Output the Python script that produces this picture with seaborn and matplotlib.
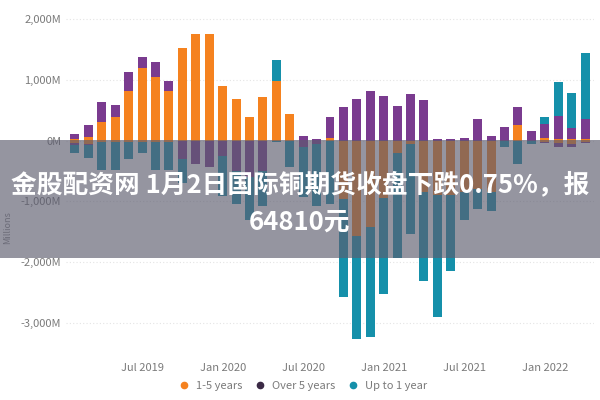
import numpy as np
import pandas as pd
import matplotlib
matplotlib.use('Agg')
import matplotlib.pyplot as plt
from matplotlib.patches import Rectangle
from matplotlib.lines import Line2D
import seaborn as sns

# monthly categories, Feb 2019 .. Apr 2022
months = [p.strftime('%b %Y') for p in pd.period_range('2019-02', '2022-04', freq='M')]

# values in millions
orange_pos = [30, 60, 310, 380, 820, 1200, 1050, 820, 1520, 1750, 1750, 900, 690, 390, 720, 980, 440,
              0, 0, 50, 0, 0, 0, 0, 0, 0, 0, 0, 0, 0, 0, 0, 0, 250, 0, 50, 20, 20, 30]
purple_pos = [85, 200, 330, 210, 310, 180, 250, 160, 0, 0, 0, 0, 0, 0, 0, 0, 0,
              80, 20, 340, 550, 680, 820, 740, 570, 770, 660, 30, 30, 50, 360, 80, 230, 300, 150, 230, 380, 190, 330]
teal_pos = [0, 0, 0, 0, 0, 0, 0, 0, 0, 0, 0, 0, 0, 0, 0, 350, 0,
            0, 0, 0, 0, 0, 0, 0, 0, 0, 0, 0, 0, 0, 0, 0, 0, 0, 0, 100, 570, 570, 1080]

orange_neg = [-40, -60, -20, -20, -20, -20, -20, -20, 0, 0, 0, 0, 0, 0, 0, 0, 0,
              0, 0, 0, -970, -1570, -1430, -950, -200, -60, -850, -900, -900, -850, -800, -850,
              0, 0, 0, -20, -40, -50, -20]
purple_neg = [-30, -20, 0, 0, 0, 0, 0, 0, -300, -390, -440, -250, -500, -600, -500, 0, 0,
              -100, -50, 0, 0, 0, 0, 0, 0, 0, 0, 0, 0, 0, 0, 0,
              0, 0, 0, -20, -60, -60, -20]
teal_neg = [-130, -200, -460, -460, -290, -180, -460, -460, -400, 0, 0, -670, -550, -700, -580, -30, -440,
            -830, -1030, -1050, -1600, -1690, -1800, -1570, -1730, -1480, -1460, -2000, -1250, -450, -320, -310,
            -100, -380, -60, 0, 0, 0, 0]

tick_pos = [5, 11, 17, 23, 29, 35]
tick_labels = ['Jul 2019', 'Jan 2020', 'Jul 2020', 'Jan 2021', 'Jul 2021', 'Jan 2022']
y_ticks = [-3000, -2000, -1000, 0, 1000, 2000]

series_names = ['1-5 years', 'Over 5 years', 'Up to 1 year']
ORANGE = '#F5821F'
PURPLE = '#7A3B8F'
TEAL = '#1590AA'

sns.set_theme(style='white')
plt.rcParams['font.family'] = ['Noto Sans CJK SC', 'DejaVu Sans']

fig = plt.figure(figsize=(6, 4), dpi=100)
ax = fig.add_axes([0.11, 0.14, 0.88, 0.835])

df = pd.DataFrame({
    'month': months,
    'o_pos': orange_pos, 'p_pos': purple_pos, 't_pos': teal_pos,
    'o_neg': orange_neg, 'p_neg': purple_neg, 't_neg': teal_neg,
})
# stacked by overdrawing cumulative totals
for sign in ['pos', 'neg']:
    df['tot'] = df['o_' + sign] + df['p_' + sign] + df['t_' + sign]
    df['op'] = df['o_' + sign] + df['p_' + sign]
    for col, c in [('tot', TEAL), ('op', PURPLE), ('o_' + sign, ORANGE)]:
        sns.barplot(data=df, x='month', y=col, order=months, color=c, saturation=1,
                    width=0.67, linewidth=0, ax=ax)

ax.set_xlim(-0.67, 38.67)
ax.set_ylim(-3350, 2150)
ax.set_xticks(tick_pos)
ax.set_xticklabels(tick_labels)
ax.set_yticks(y_ticks)
ax.set_yticklabels([f'{v:,.0f}M' for v in y_ticks])
ax.tick_params(axis='both', length=0, labelsize=8, colors='#7a7a7a')
ax.tick_params(axis='x', pad=14)
ax.set_xlabel('')
ax.set_ylabel('')
ax.yaxis.grid(True, color='#e4e4e4', lw=0.8, ls=(0, (1, 2)))
ax.set_axisbelow(True)
for s in ax.spines.values():
    s.set_visible(False)

fig.text(8 / 600, 1 - 228 / 400, 'Millions', rotation=90, fontsize=6.5, color='#8a8a8a',
         ha='center', va='center')

handles = [Line2D([], [], marker='o', ls='', color=c, markersize=4.5) for c in [ORANGE, '#3b2a45', TEAL]]
fig.legend(handles, series_names, loc='center', bbox_to_anchor=(0.5, 1 - 386 / 400), ncol=3,
           frameon=False, fontsize=8, handletextpad=0.1, columnspacing=0.6, labelcolor='#7a7a7a')

# title banner over the chart
fig.add_artist(Rectangle((0, 0.355), 1, 0.295, transform=fig.transFigure,
                         facecolor=(0.36, 0.36, 0.43), alpha=0.65, edgecolor='none', zorder=10))
fig.text(0.5, 1 - 185 / 400, '金股配资网 1月2日国际铜期货收盘下跌0.75%，报', ha='center', va='center',
         fontsize=18.5, fontweight='bold', color='white', zorder=11)
fig.text(0.5, 1 - 222 / 400, '64810元', ha='center', va='center',
         fontsize=18.5, fontweight='bold', color='white', zorder=11)

fig.savefig('out.png', dpi=100)
